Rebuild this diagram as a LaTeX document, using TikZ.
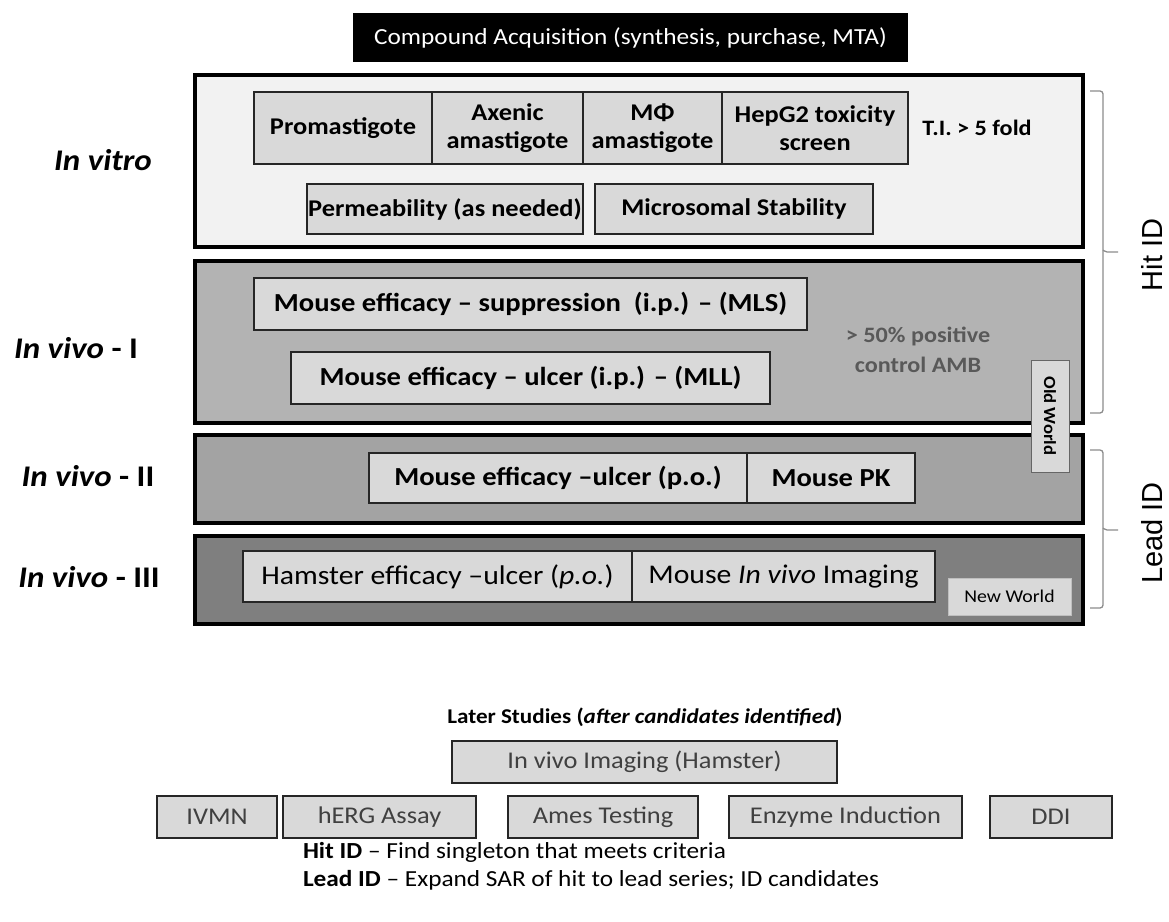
\documentclass[tikz,border=0pt]{standalone}
\usepackage{fontspec}
\setmainfont{Carlito}[FakeStretch=1.1]
\newfontfamily\arialf{Liberation Sans}
\definecolor{pA}{HTML}{F2F2F2}
\definecolor{pB}{HTML}{B3B3B3}
\definecolor{pC}{HTML}{A3A3A3}
\definecolor{pD}{HTML}{7F7F7F}
\definecolor{bxf}{HTML}{D9D9D9}
\definecolor{gtext}{HTML}{595959}
\definecolor{btext}{HTML}{404040}
\definecolor{brc}{HTML}{8C8C8C}
\newcommand\bx[7]{\node[#2, minimum width={#5-#3}, minimum height={#6-#4}] (#1) at ({(#3+#5)/2},{(#4+#6)/2}) {#7};}
\begin{document}
\begin{tikzpicture}[x=1pt,y=-1pt,
  every node/.style={inner sep=0pt, outer sep=0pt, align=center},
  panel/.style={draw=black, line width=3.5pt},
  ibox/.style={draw=black!85, line width=2.2pt, fill=bxf, font=\bfseries\fontsize{26}{30}\selectfont},
  rbox/.style={ibox, font=\bfseries\fontsize{24}{28}\selectfont},
  lbox/.style={draw=black!85, line width=2.4pt, fill=bxf, text=btext, font=\fontsize{24}{28}\selectfont},
  sidelab/.style={font=\bfseries\fontsize{30}{34}\selectfont},
  brace/.style={draw=brc, line width=1.3pt, rounded corners=3pt},
  idlab/.style={font=\arialf\fontsize{29}{32}\selectfont, rotate=90}
]
\useasboundingbox (0,0) rectangle (1169,921);
\fill[white] (0,0) rectangle (1169,921);

% top bar
\bx{top}{fill=black, text=white, font=\fontsize{23}{27}\selectfont}{353}{13}{908}{62}{Compound Acquisition (synthesis, purchase, MTA)}

% panels
\bx{pvitro}{panel, fill=pA}{195}{75}{1083}{247}{}
\bx{pvivoI}{panel, fill=pB}{195}{261}{1083}{423}{}
\bx{pvivoII}{panel, fill=pC}{195}{435}{1083}{523}{}
\bx{pvivoIII}{panel, fill=pD}{195}{536}{1083}{624}{}

% in vitro
\bx{promo}{rbox}{254}{92}{432}{164}{Promastigote}
\bx{axen}{rbox}{432}{92}{583}{164}{Axenic\\amastigote}
\bx{mphi}{rbox}{583}{92}{722}{164}{M\char"03A6\\amastigote}
\bx{hepg}{rbox}{722}{92}{908}{164}{HepG2 toxicity\\screen}
\node[font=\bfseries\fontsize{22}{26}\selectfont] (ti) at (977,128) {T.I. > 5 fold};
\bx{perm}{rbox}{307}{184}{583}{234}{Permeability (as needed)}
\bx{micro}{rbox}{595}{184}{873}{234}{Microsomal Stability}

% in vivo I
\bx{mls}{ibox}{254}{278}{807}{330}{Mouse efficacy -- suppression\ \ (i.p.) -- (MLS)}
\bx{mll}{ibox}{291}{352}{770}{404}{Mouse efficacy -- ulcer (i.p.) -- (MLL)}
\node[text=gtext, font=\bfseries\fontsize{22}{30}\selectfont] (amb) at (918,350) {> 50\% positive\\control AMB};

% in vivo II
\bx{mpo}{ibox}{369}{453}{747}{503}{Mouse efficacy --ulcer (p.o.)}
\bx{mpk}{ibox}{747}{453}{915}{503}{Mouse PK}

% in vivo III
\bx{ham}{ibox, font=\fontsize{27}{30}\selectfont}{243}{551}{632}{602}{Hamster efficacy --ulcer (\textit{p.o.})}
\bx{mimg}{ibox, font=\fontsize{27}{30}\selectfont}{632}{551}{935}{602}{Mouse \textit{In vivo} Imaging}

% old / new world
\node[draw=black!60, line width=1pt, fill=bxf, minimum width=112, minimum height=38, rotate=-90, font=\bfseries\fontsize{17}{19}\selectfont] (old) at (1050,416) {Old World};
\bx{new}{draw=black!25, line width=0.8pt, fill=bxf, font=\fontsize{18}{20}\selectfont}{948}{578}{1071}{615}{New World}

% side labels
\node[sidelab] (lvitro) at (103,160) {\textit{In vitro}};
\node[sidelab] (lvivoI) at (76,348) {\textit{In vivo} - I};
\node[sidelab] (lvivoII) at (88,476) {\textit{In vivo} - II};
\node[sidelab] (lvivoIII) at (89,577) {\textit{In vivo} - III};

% braces
\coordinate (hA) at (1090,91);
\coordinate (hB) at (1090,413);
\coordinate (hT) at (1118,252);
\draw[brace] (hA) -- (1103,91) -- (1103,413) -- (hB);
\draw[brace, rounded corners=2pt] (1103,250) -- (1105,252) -- (hT);
\node[idlab] (hit) at (1152,255) {Hit ID};
\coordinate (lA) at (1090,450);
\coordinate (lB) at (1090,608);
\coordinate (lT) at (1118,530);
\draw[brace] (lA) -- (1103,450) -- (1103,608) -- (lB);
\draw[brace, rounded corners=2pt] (1103,528) -- (1105,530) -- (lT);
\node[idlab] (lead) at (1152,533) {Lead ID};

% later studies
\node[font=\bfseries\fontsize{21}{24}\selectfont] (later) at (645,717) {Later Studies (\textit{after candidates identified})};
\bx{imgh}{lbox}{452}{741}{837}{783}{In vivo Imaging (Hamster)}
\bx{ivmn}{lbox}{157}{796}{277}{838}{IVMN}
\bx{herg}{lbox}{283}{796}{476}{838}{hERG Assay}
\bx{ames}{lbox}{508}{796}{698}{838}{Ames Testing}
\bx{enz}{lbox}{729}{796}{962}{838}{Enzyme Induction}
\bx{ddi}{lbox}{990}{796}{1112}{838}{DDI}

% legend
\node[anchor=west, font=\fontsize{23}{26}\selectfont] (leg1) at (303,852) {\textbf{Hit ID} -- Find singleton that meets criteria};
\node[anchor=west, font=\fontsize{23}{26}\selectfont] (leg2) at (303,880) {\textbf{Lead ID} -- Expand SAR of hit to lead series; ID candidates};
\end{tikzpicture}
\end{document}
